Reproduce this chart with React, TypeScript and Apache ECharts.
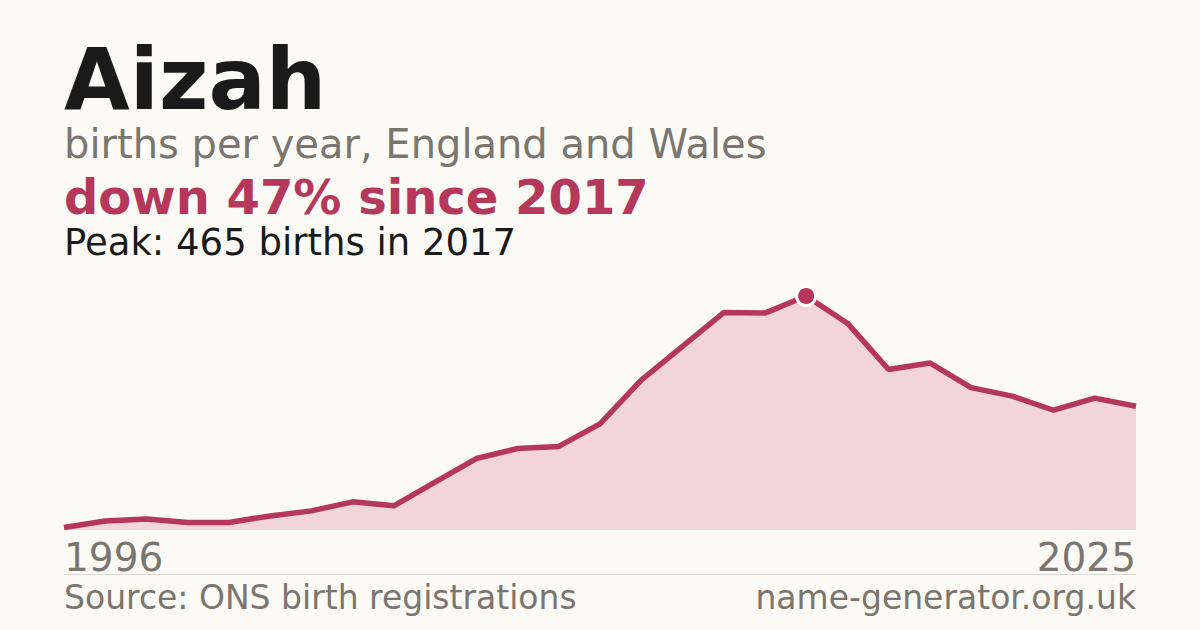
import React, { useEffect, useRef } from 'react';
import * as echarts from 'echarts';

// years shown on the category axis (a few early years have no registrations)
const years = [
  '1996', '1997', '1999', '2001', '2002', '2004', '2005', '2006', '2007',
  '2008', '2009', '2010', '2011', '2012', '2013', '2014', '2015', '2016',
  '2017', '2018', '2019', '2020', '2021', '2022', '2023', '2024', '2025',
];
const births = [
  5, 18, 22, 15, 15, 28, 38, 56, 48,
  95, 142, 162, 166, 211, 298, 365, 432, 431,
  465, 411, 319, 332, 283, 266, 238, 262, 246,
];
const peakIndex = 18;

const RED = '#b5385a';
const GREY = '#7a756e';
const INK = '#1a1a1a';
const FONT = '"DejaVu Sans", sans-serif';

const App: React.FC = () => {
  const chartRef = useRef<HTMLDivElement>(null);

  useEffect(() => {
    if (!chartRef.current) return;
    const chart = echarts.init(chartRef.current, undefined, { renderer: 'svg' });

    const last = years.length - 1;

    chart.setOption({
      animation: false,
      backgroundColor: '#fbfaf5',
      textStyle: { fontFamily: FONT },
      grid: { left: 64, right: 64, top: 296, bottom: 100 },
      xAxis: {
        type: 'category',
        data: years,
        boundaryGap: false,
        axisLine: { show: false },
        axisTick: { show: false },
        splitLine: { show: false },
        axisLabel: {
          interval: (i: number) => i === 0 || i === last,
          showMinLabel: true,
          showMaxLabel: true,
          alignMinLabel: 'left',
          alignMaxLabel: 'right',
          color: GREY,
          fontFamily: FONT,
          fontSize: 39,
          margin: 8,
        },
      },
      yAxis: {
        type: 'value',
        min: 0,
        max: 465,
        show: false,
      },
      series: [
        {
          type: 'line',
          data: births.map((v, i) =>
            i === peakIndex
              ? {
                  value: v,
                  symbol: 'circle',
                  symbolSize: 19,
                  itemStyle: { color: RED, borderColor: '#ffffff', borderWidth: 3 },
                }
              : v
          ),
          showSymbol: true,
          symbol: 'none',
          clip: false,
          lineStyle: { color: RED, width: 5.5 },
          areaStyle: { color: '#f2d5db', opacity: 1 },
          z: 2,
        },
      ],
      graphic: [
        {
          type: 'text',
          left: 64,
          top: 37,
          style: { text: 'Aizah', font: `bold 85px ${FONT}`, fill: INK },
        },
        {
          type: 'text',
          left: 64,
          top: 124,
          style: { text: 'births per year, England and Wales', font: `40px ${FONT}`, fill: GREY },
        },
        {
          type: 'text',
          left: 64,
          top: 173,
          style: { text: 'down 47% since 2017', font: `bold 48px ${FONT}`, fill: RED },
        },
        {
          type: 'text',
          left: 64,
          top: 224,
          style: { text: 'Peak: 465 births in 2017', font: `37px ${FONT}`, fill: INK },
        },
        {
          type: 'line',
          shape: { x1: 64, y1: 574.5, x2: 1136, y2: 574.5 },
          style: { stroke: '#dcdad4', lineWidth: 1 },
        },
        {
          type: 'text',
          left: 64,
          top: 581,
          style: { text: 'Source: ONS birth registrations', font: `33px ${FONT}`, fill: GREY },
        },
        {
          type: 'text',
          right: 64,
          top: 581,
          style: { text: 'name-generator.org.uk', font: `33px ${FONT}`, fill: GREY },
        },
      ],
    });

    return () => {
      chart.dispose();
    };
  }, []);

  return (
    <div
      ref={chartRef}
      style={{ position: 'fixed', left: 0, top: 0, width: 1200, height: 630 }}
    />
  );
};

export default App;
